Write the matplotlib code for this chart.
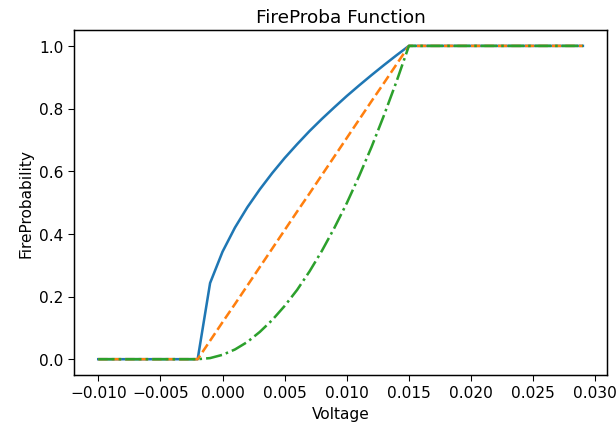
import matplotlib
matplotlib.use("Agg")
import matplotlib.pyplot as plt

# voltage samples (step 0.001)
voltage = [-0.010, -0.009, -0.008, -0.007, -0.006, -0.005, -0.004, -0.003,
           -0.002, -0.001, 0.000, 0.001, 0.002, 0.003, 0.004, 0.005, 0.006,
           0.007, 0.008, 0.009, 0.010, 0.011, 0.012, 0.013, 0.014, 0.015,
           0.016, 0.017, 0.018, 0.019, 0.020, 0.021, 0.022, 0.023, 0.024,
           0.025, 0.026, 0.027, 0.028, 0.029]

zeros = [0.0] * 9
ones = [1.0] * 14

# rising parts, from -0.001 to 0.014
sqrt_rise = [0.243, 0.343, 0.420, 0.485, 0.542, 0.594, 0.642, 0.686,
             0.728, 0.767, 0.804, 0.840, 0.874, 0.907, 0.939, 0.970, 1.0]
lin_rise = [0.059, 0.118, 0.176, 0.235, 0.294, 0.353, 0.412, 0.471,
            0.529, 0.588, 0.647, 0.706, 0.765, 0.824, 0.882, 0.941, 1.0]
sq_rise = [0.0035, 0.014, 0.031, 0.055, 0.087, 0.125, 0.170, 0.221,
           0.280, 0.346, 0.419, 0.498, 0.585, 0.678, 0.779, 0.886, 1.0]

proba_sqrt = zeros + sqrt_rise + ones
proba_lin = zeros + lin_rise + ones
proba_sq = zeros + sq_rise + ones

plt.rcParams["font.size"] = 11.5
plt.rcParams["lines.linewidth"] = 1.9
plt.rcParams["axes.linewidth"] = 1.1
plt.rcParams["xtick.major.size"] = 4.5
plt.rcParams["ytick.major.size"] = 4.5

fig, ax = plt.subplots(figsize=(6.4, 4.48), dpi=96.4)
fig.subplots_adjust(left=0.120, right=0.984, top=0.928, bottom=0.130)

ax.plot(voltage, proba_sqrt, "-")
ax.plot(voltage, proba_lin, "--")
ax.plot(voltage, proba_sq, "-.")

ax.set_title("FireProba Function")
ax.set_xlabel("Voltage")
ax.set_ylabel("FireProbability")

fig.savefig("out.png")
